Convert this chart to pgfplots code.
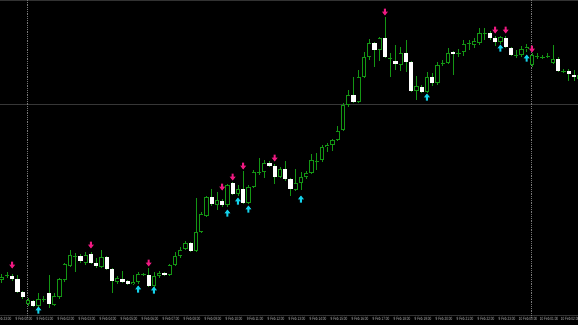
\documentclass[border=0pt]{standalone}
\usepackage{fontspec}
\setmainfont{Liberation Sans}
\newfontfamily\tickfont[FakeStretch=0.68]{Liberation Sans}
\usepackage{pgfplots}
\pgfplotsset{compat=1.18}
\usepackage{pgfplotstable}

\definecolor{wick}{RGB}{20,150,20}
\definecolor{dnc}{RGB}{240,25,130}
\definecolor{upc}{RGB}{20,210,235}
\definecolor{sepc}{RGB}{120,120,120}
\definecolor{hlc}{RGB}{55,55,55}
\definecolor{framec}{RGB}{50,50,50}
\definecolor{lblc}{RGB}{185,185,185}

\pgfdeclareplotmark{dnarrow}{%
  \pgfpathmoveto{\pgfqpoint{-1pt}{3.5pt}}%
  \pgfpathlineto{\pgfqpoint{1pt}{3.5pt}}%
  \pgfpathlineto{\pgfqpoint{1pt}{0.4pt}}%
  \pgfpathlineto{\pgfqpoint{3pt}{0.4pt}}%
  \pgfpathlineto{\pgfqpoint{0pt}{-3.5pt}}%
  \pgfpathlineto{\pgfqpoint{-3pt}{0.4pt}}%
  \pgfpathlineto{\pgfqpoint{-1pt}{0.4pt}}%
  \pgfpathclose\pgfusepathqfill}
\pgfdeclareplotmark{uparrow}{%
  \pgfpathmoveto{\pgfqpoint{-1pt}{-3.5pt}}%
  \pgfpathlineto{\pgfqpoint{1pt}{-3.5pt}}%
  \pgfpathlineto{\pgfqpoint{1pt}{-0.4pt}}%
  \pgfpathlineto{\pgfqpoint{3pt}{-0.4pt}}%
  \pgfpathlineto{\pgfqpoint{0pt}{3.5pt}}%
  \pgfpathlineto{\pgfqpoint{-3pt}{-0.4pt}}%
  \pgfpathlineto{\pgfqpoint{-1pt}{-0.4pt}}%
  \pgfpathclose\pgfusepathqfill}

% candle tables (vertical values in screen units, larger = lower)
\pgfplotstableread{
i top bot hi lo
0 277 280 274 283
5 300 304 298 306
7 299 306 293 307
10 296 305 293 306
11 279 297 278 299
12 264 280 263 282
13 255 266 250 267
16 255 263 252 265
19 257 267 250 268
22 278 282 276 284
25 282 284 275 285
26 274 282 272 284
29 276 286 272 288
30 273 276 271 278
32 265 275 264 276
33 256 265 252 266
34 250 256 247 258
35 243 249 241 250
37 232 251 198 252
38 214 232 212 233
39 197 216 196 217
41 200 205 192 210
43 185 205 184 207
45 189 194 185 196
47 187 203 185 204
48 172 187 170 188
50 163 172 160 178
53 169 177 167 178
56 183 190 169 191
57 177 183 172 190
58 173 177 171 179
59 160 173 154 174
61 147 160 145 162
62 145 147 143 152
63 140 145 139 151
64 131 140 126 141
65 105 130 103 131
66 95 105 90 107
68 77 102 70 103
69 57 77 52 78
70 43 57 39 60
72 38 50 37 61
76 53 65 47 71
79 86 91 76 100
81 77 92 72 93
83 65 83 62 85
85 53 63 48 64
88 44 52 40 56
90 41 45 38 48
91 33 43 28 45
95 37 42 36 44
99 49 55 46 57
100 47 49 44 52
101 55 65 53 67
105 59 63 45 64
110 75 79 73 80
}\bulls

\pgfplotstableread{
i top bot hi lo
2 276 279 274 281
3 279 292 275 293
4 292 297 291 299
6 301 306 300 307
9 293 304 275 308
15 256 261 254 263
17 254 263 252 264
18 263 266 258 268
20 257 269 256 270
21 269 281 268 293
23 279 282 271 283
24 281 284 280 285
28 275 286 268 287
31 273 275 272 276
36 243 251 242 252
40 197 204 189 206
42 201 205 199 207
44 183 194 182 195
46 189 203 171 204
51 163 166 161 167
52 166 177 164 184
54 169 179 161 181
55 179 189 178 196
67 95 102 77 103
71 43 50 42 67
73 38 57 17 58
75 61 64 45 70
77 53 62 40 72
78 62 91 61 92
80 87 92 85 93
82 77 83 73 86
86 52 54 51 75
93 33 38 31 40
94 38 42 36 46
96 38 47 36 48
97 48 55 47 56
106 59 71 57 72
108 71 74 69 81
109 75 77 70 81
}\bears

\pgfplotstableread{
i y hi lo
1 275 272 278
8 299 296 302
14 256 253 272
27 274 273 276
49 172 158 175
60 161 153 170
74 58 53 77
84 63 60 66
87 53 49 57
89 43 40 50
92 33 28 40
98 55 50 58
102 56 53 59
103 57 55 59
104 56 53 58
107 71 69 73
}\dojis

\pgfplotstableread{
i y
2 265
17 245
28 263
42 187
44 177
46 166
52 158
73 12
94 30
96 30
101 49
}\dnarrows

\pgfplotstableread{
i y
7 310
26 289
29 290
43 213
45 201
47 209
57 199
81 97
95 48
100 58
}\uparrows

\begin{document}
\begin{tikzpicture}
\useasboundingbox (0,-10pt) rectangle (578pt,315pt);
\fill[black] (0,-10pt) rectangle (578pt,315pt);
\begin{axis}[
  at={(0,0)}, anchor=south west,
  scale only axis, width=578pt, height=315pt,
  xmin=-0.3238, xmax=109.7714, ymin=0, ymax=315,
  y dir=reverse, clip=false,
  axis line style={draw=none},
  major tick length=0pt,
  ytick=\empty,
  xtick={0.25,4.25,8.25,12.25,16.25,20.25,24.25,28.25,32.25,36.25,40.25,44.25,48.25,52.25,56.25,60.25,64.25,68.25,72.25,76.25,80.25,84.25,88.25,92.25,96.25,100.25,104.25,108.25},
  xticklabels={8 Feb 23:00,9 Feb 00:00,9 Feb 01:00,9 Feb 02:00,9 Feb 03:00,9 Feb 04:00,9 Feb 05:00,9 Feb 06:00,9 Feb 07:00,9 Feb 08:00,9 Feb 09:00,9 Feb 10:00,9 Feb 11:00,9 Feb 12:00,9 Feb 13:00,9 Feb 14:00,9 Feb 15:00,9 Feb 16:00,9 Feb 17:00,9 Feb 18:00,9 Feb 19:00,9 Feb 20:00,9 Feb 21:00,9 Feb 22:00,9 Feb 23:00,10 Feb 00:00,10 Feb 01:00,10 Feb 02:00},
  xticklabel style={font=\tickfont\fontsize{4.6}{5}\selectfont, text=lblc, anchor=north, inner sep=0pt, yshift=-2.3pt},
]
% frame, grid and separators
\addplot[framec, line width=1pt, forget plot] coordinates {(-1,315) (111,315)};
\addplot[framec, line width=1.2pt, forget plot] coordinates {(-1,0.6) (111,0.6)};
\addplot[hlc, line width=0.8pt, forget plot] coordinates {(-1,104.5) (111,104.5)};
\addplot[sepc, densely dotted, line width=0.8pt, forget plot] coordinates {(4.82,0) (4.82,318)};
\addplot[sepc, densely dotted, line width=0.8pt, forget plot] coordinates {(100.82,0) (100.82,318)};

% wicks
\addplot[draw=none, mark=none, forget plot, error bars/.cd, y dir=plus, y explicit, error mark=none,
  error bar style={draw=wick, line width=0.9pt, solid}]
  table[x=i, y=hi, y error expr=\thisrow{lo}-\thisrow{hi}] {\bulls};
\addplot[draw=none, mark=none, forget plot, error bars/.cd, y dir=plus, y explicit, error mark=none,
  error bar style={draw=wick, line width=0.9pt, solid}]
  table[x=i, y=hi, y error expr=\thisrow{lo}-\thisrow{hi}] {\bears};
\addplot[draw=none, mark=none, forget plot, error bars/.cd, y dir=plus, y explicit, error mark=none,
  error bar style={draw=wick, line width=0.9pt, solid}]
  table[x=i, y=hi, y error expr=\thisrow{lo}-\thisrow{hi}] {\dojis};

% bull bodies (hollow)
\addplot[draw=none, mark=none, forget plot, error bars/.cd, y dir=plus, y explicit, error mark=none,
  error bar style={draw=wick, line width=4.4pt, solid}]
  table[x=i, y=top, y error expr=\thisrow{bot}-\thisrow{top}] {\bulls};
\addplot[draw=none, mark=none, forget plot, error bars/.cd, y dir=plus, y explicit, error mark=none,
  error bar style={draw=black, line width=2.6pt, solid}]
  table[x=i, y expr=\thisrow{top}+0.9, y error expr=\thisrow{bot}-\thisrow{top}-1.8] {\bulls};

% bear bodies (white)
\addplot[draw=none, mark=none, forget plot, error bars/.cd, y dir=plus, y explicit, error mark=none,
  error bar style={draw=white, line width=4.2pt, solid}]
  table[x=i, y=top, y error expr=\thisrow{bot}-\thisrow{top}] {\bears};

% doji bodies
\addplot[only marks, mark=-, mark size=2.2pt, mark options={draw=wick, line width=0.9pt}, forget plot]
  table[x=i, y=y] {\dojis};

% signal arrows
\addplot[only marks, mark=dnarrow, mark options={fill=dnc, draw=none}, forget plot]
  table[x=i, y=y] {\dnarrows};
\addplot[only marks, mark=uparrow, mark options={fill=upc, draw=none}, forget plot]
  table[x=i, y=y] {\uparrows};
\end{axis}
\end{tikzpicture}
\end{document}
